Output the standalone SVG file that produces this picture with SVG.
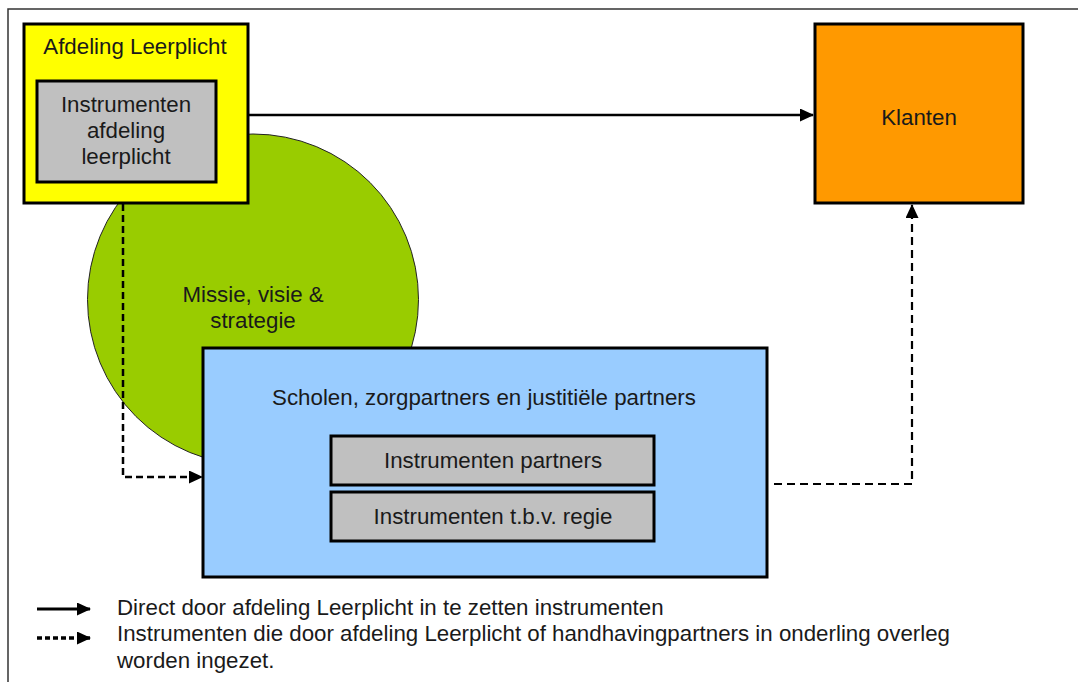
<svg xmlns="http://www.w3.org/2000/svg" width="1078" height="682" viewBox="0 0 1078 682">
<style>
text{font-family:"Liberation Sans",Arial,sans-serif;font-size:22.3px;fill:#1a1a1a;text-anchor:middle}
.box{stroke:#000;stroke-width:3}
.conn{fill:none;stroke:#000;stroke-width:2.5}
.dash{stroke-dasharray:7 4}
</style>
<defs>
<marker id="ah" viewBox="0 0 14 13" refX="13" refY="6.5" markerWidth="14" markerHeight="13" markerUnits="userSpaceOnUse" orient="auto">
<path d="M0,0 L14,6.5 L0,13 z" fill="#000"/>
</marker>
</defs>
<rect x="8" y="9" width="1100" height="720" fill="#fff" stroke="#333" stroke-width="1.5"/>
<g id="missie">
<circle cx="253" cy="299.5" r="165.5" fill="#99cc00" stroke="#222" stroke-width="1"/>
<text x="253" y="302">Missie, visie &amp;</text>
<text x="253" y="328">strategie</text>
</g>
<g id="afdeling">
<rect class="box" x="24" y="24" width="224" height="179" fill="#ffff00"/>
<text x="135" y="54">Afdeling Leerplicht</text>
</g>
<g id="instr-afdeling">
<rect class="box" x="37" y="81" width="179" height="101" fill="#c0c0c0"/>
<text x="126" y="112">Instrumenten</text>
<text x="126" y="138">afdeling</text>
<text x="126" y="164">leerplicht</text>
</g>
<g id="klanten">
<rect class="box" x="815" y="24" width="208" height="179" fill="#ff9900"/>
<text x="919" y="125">Klanten</text>
</g>
<g id="scholen">
<rect class="box" x="203" y="348" width="564" height="229" fill="#99ccff"/>
<text x="484" y="405">Scholen, zorgpartners en justitiële partners</text>
</g>
<g id="instr-partners">
<rect class="box" x="331" y="436" width="323" height="49" fill="#c0c0c0"/>
<text x="493" y="468">Instrumenten partners</text>
</g>
<g id="instr-regie">
<rect class="box" x="331" y="492" width="323" height="49" fill="#c0c0c0"/>
<text x="493" y="524">Instrumenten t.b.v. regie</text>
</g>
<g id="connectors">
<path class="conn" d="M248,115 L813,115" marker-end="url(#ah)"/>
<path class="conn dash" d="M123,204 L123,477 L202,477" marker-end="url(#ah)"/>
<path class="conn dash" d="M774,484 L912,484 L912,205" style="stroke-width:2.2;stroke-dasharray:8 5" marker-end="url(#ah)"/>
</g>
<g id="legend">
<path class="conn" d="M37,609 L90,609" style="stroke-width:3" marker-end="url(#ah)"/>
<path class="conn" d="M37,638 L90,638" style="stroke-width:3.5;stroke-dasharray:5 3" marker-end="url(#ah)"/>
<text x="117" y="615" style="text-anchor:start">Direct door afdeling Leerplicht in te zetten instrumenten</text>
<text x="117" y="641" style="text-anchor:start">Instrumenten die door afdeling Leerplicht of handhavingpartners in onderling overleg</text>
<text x="117" y="668" style="text-anchor:start">worden ingezet.</text>
</g>
</svg>
